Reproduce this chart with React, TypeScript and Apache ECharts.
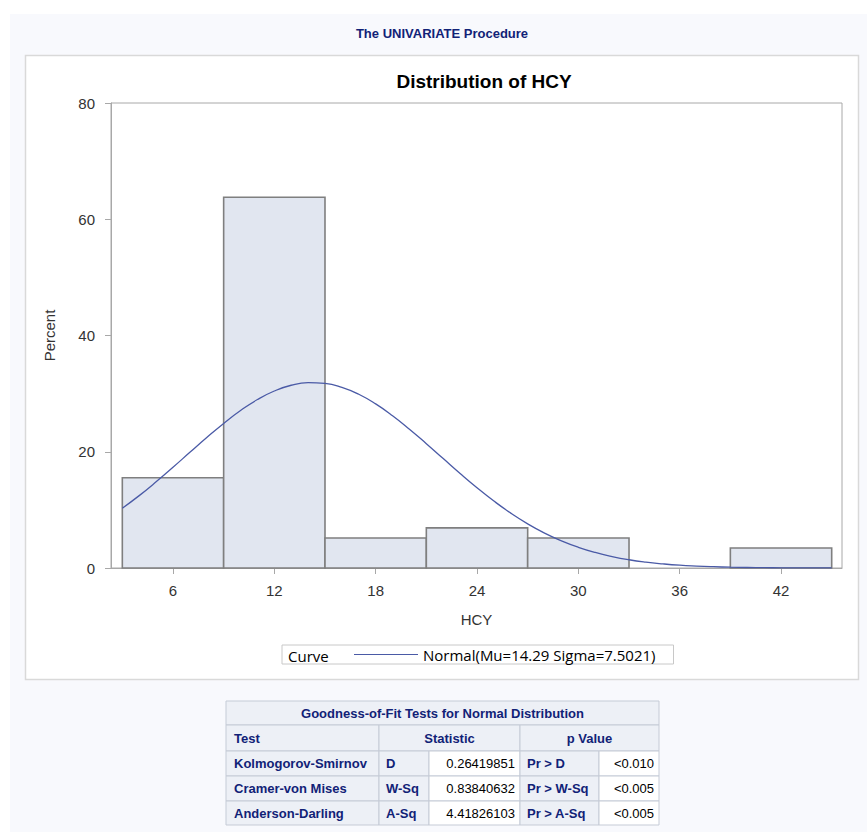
import React, { useEffect, useRef } from "react";
import * as echarts from "echarts";

// Histogram bins (HCY), percent of observations
const binStart = [3, 9, 15, 21, 27, 33, 39];
const binEnd = [9, 15, 21, 27, 33, 39, 45];
const percent = [15.52, 63.79, 5.17, 6.9, 5.17, 0, 3.45];

// Fitted normal curve (HCY, percent)
const curveX = [3, 4, 5, 6, 7, 8, 9, 10, 11, 12, 13, 14, 15, 16, 17, 18, 19, 20, 21, 22, 23, 24, 25, 26, 27, 28, 29, 30, 31, 32, 33, 34, 35, 36, 37, 38, 39, 40, 41, 42, 43, 44, 45];
const curveY = [10.28, 12.45, 14.82, 17.33, 19.9, 22.45, 24.88, 27.1, 28.98, 30.45, 31.44, 31.88, 31.76, 31.09, 29.89, 28.23, 26.2, 23.88, 21.39, 18.82, 16.26, 13.81, 11.52, 9.44, 7.6, 6.01, 4.67, 3.56, 2.67, 1.97, 1.42, 1.01, 0.71, 0.48, 0.33, 0.22, 0.14, 0.09, 0.06, 0.03, 0.02, 0.01, 0.01];

const xTicks = [6, 12, 18, 24, 30, 36, 42];
const yTicks = [0, 20, 40, 60, 80];

const curveName = "Normal(Mu=14.29 Sigma=7.5021)";

// Goodness-of-fit table
const tableTitle = "Goodness-of-Fit Tests for Normal Distribution";
const tableHeaders = ["Test", "Statistic", "p Value"];
const testNames = ["Kolmogorov-Smirnov", "Cramer-von Mises", "Anderson-Darling"];
const statSymbols = ["D", "W-Sq", "A-Sq"];
const statValues = ["0.26419851", "0.83840632", "4.41826103"];
const pLabels = ["Pr > D", "Pr > W-Sq", "Pr > A-Sq"];
const pValues = ["<0.010", "<0.005", "<0.005"];

const FONT = "'Liberation Sans', Arial, sans-serif";
const LEGEND_FONT = "'Open Sans', 'Noto Sans', sans-serif";
const NAVY = "#112277";
const HEAD_BG = "#edf0f6";
const CELL_LINE = "#c5cbd6";

export default function App() {
  const ref = useRef<HTMLDivElement>(null);

  useEffect(() => {
    if (!ref.current) return;
    const chart = echarts.init(ref.current, null, { renderer: "svg" });

    const colX = [226, 379, 429, 520, 599, 659];
    const rowY = [701, 725, 751, 776, 801, 825];

    const tableEls: any[] = [];
    const cell = (x0: number, x1: number, y0: number, y1: number, fill: string) => {
      tableEls.push({
        type: "rect",
        shape: { x: x0, y: y0, width: x1 - x0, height: y1 - y0 },
        style: { fill, stroke: CELL_LINE, lineWidth: 1 },
        z: 5,
      });
    };
    const txt = (
      text: string,
      x: number,
      y: number,
      align: string,
      bold: boolean,
      color: string
    ) => {
      tableEls.push({
        type: "text",
        x,
        y,
        style: {
          text,
          fill: color,
          font: `${bold ? "bold " : ""}13px ${FONT}`,
          textAlign: align,
          textVerticalAlign: "middle",
        },
        z: 6,
      });
    };
    // title row
    cell(colX[0], colX[5], rowY[0], rowY[1], HEAD_BG);
    txt(tableTitle, (colX[0] + colX[5]) / 2, (rowY[0] + rowY[1]) / 2, "center", true, NAVY);
    // header row
    cell(colX[0], colX[1], rowY[1], rowY[2], HEAD_BG);
    cell(colX[1], colX[3], rowY[1], rowY[2], HEAD_BG);
    cell(colX[3], colX[5], rowY[1], rowY[2], HEAD_BG);
    txt(tableHeaders[0], colX[0] + 8, (rowY[1] + rowY[2]) / 2, "left", true, NAVY);
    txt(tableHeaders[1], (colX[1] + colX[3]) / 2, (rowY[1] + rowY[2]) / 2, "center", true, NAVY);
    txt(tableHeaders[2], (colX[3] + colX[5]) / 2, (rowY[1] + rowY[2]) / 2, "center", true, NAVY);
    for (let i = 0; i < testNames.length; i++) {
      const y0 = rowY[2 + i];
      const y1 = rowY[3 + i];
      const ym = (y0 + y1) / 2;
      cell(colX[0], colX[1], y0, y1, HEAD_BG);
      cell(colX[1], colX[2], y0, y1, HEAD_BG);
      cell(colX[2], colX[3], y0, y1, "#ffffff");
      cell(colX[3], colX[4], y0, y1, HEAD_BG);
      cell(colX[4], colX[5], y0, y1, "#ffffff");
      txt(testNames[i], colX[0] + 8, ym, "left", true, NAVY);
      txt(statSymbols[i], colX[1] + 7, ym, "left", true, NAVY);
      txt(statValues[i], colX[3] - 5, ym, "right", false, "#000");
      txt(pLabels[i], colX[3] + 7, ym, "left", true, NAVY);
      txt(pValues[i], colX[5] - 5, ym, "right", false, "#000");
    }

    const barData = binStart.map((s, i) => [s, binEnd[i], percent[i]]);
    const curveData = curveX.map((x, i) => [x, curveY[i]]);

    chart.setOption({
      animation: false,
      graphic: [
        {
          type: "rect",
          shape: { x: 10, y: 14, width: 857, height: 818 },
          style: { fill: "#f8f9fd" },
          z: -20,
        },
        {
          type: "rect",
          shape: { x: 25.5, y: 55.5, width: 833, height: 624 },
          style: { fill: "#ffffff", stroke: "#d9d9d9", lineWidth: 1.5 },
          z: -19,
        },
        {
          type: "text",
          x: 442,
          y: 33,
          style: {
            text: "The UNIVARIATE Procedure",
            fill: NAVY,
            font: `bold 13px ${FONT}`,
            textAlign: "center",
            textVerticalAlign: "middle",
          },
        },
        {
          type: "text",
          x: 288,
          y: 656,
          style: {
            text: "Curve",
            fill: "#000",
            font: `15px ${LEGEND_FONT}`,
            textAlign: "left",
            textVerticalAlign: "middle",
          },
          z: 10,
        },
        ...tableEls,
      ],
      title: {
        text: "Distribution of HCY",
        left: 479,
        top: 67,
        textAlign: "center",
        textStyle: { fontFamily: FONT, fontSize: 19, fontWeight: "bold", color: "#000" },
      },
      legend: {
        data: [curveName],
        left: 282,
        top: 645,
        padding: [2, 18, 2, 72],
        borderColor: "#c8c8c8",
        borderWidth: 1,
        icon: "rect",
        itemWidth: 64,
        itemHeight: 1,
        selectedMode: false,
        textStyle: { fontFamily: LEGEND_FONT, fontSize: 15, color: "#000" },
      },
      grid: {
        left: 111,
        top: 103,
        width: 731,
        height: 465,
        show: true,
        backgroundColor: "#ffffff",
        borderColor: "#a8a8a8",
        borderWidth: 1,
      },
      xAxis: {
        type: "value",
        min: 2.33,
        max: 45.61,
        name: "HCY",
        nameLocation: "middle",
        nameGap: 44,
        nameTextStyle: { fontFamily: FONT, fontSize: 15, color: "#333" },
        splitLine: { show: false },
        axisLine: { show: true, lineStyle: { color: "#a8a8a8" } },
        axisTick: { show: true, length: 6, lineStyle: { color: "#a8a8a8" }, customValues: xTicks },
        axisLabel: {
          customValues: xTicks,
          margin: 15,
          fontFamily: FONT,
          fontSize: 15,
          color: "#333",
        },
      },
      yAxis: {
        type: "value",
        min: yTicks[0],
        max: yTicks[yTicks.length - 1],
        interval: 20,
        name: "Percent",
        nameLocation: "middle",
        nameGap: 54,
        nameRotate: 90,
        nameTextStyle: { fontFamily: FONT, fontSize: 15, color: "#333" },
        splitLine: { show: false },
        axisLine: { show: true, lineStyle: { color: "#a8a8a8" } },
        axisTick: { show: true, length: 6, lineStyle: { color: "#a8a8a8" } },
        axisLabel: { margin: 16, fontFamily: FONT, fontSize: 15, color: "#333" },
      },
      series: [
        {
          type: "custom",
          name: "Histogram",
          data: barData,
          encode: { x: [0, 1], y: 2 },
          renderItem: (params: any, api: any) => {
            const v = api.value(2);
            if (!v) return null;
            const p0 = api.coord([api.value(0), v]);
            const p1 = api.coord([api.value(1), 0]);
            return {
              type: "rect",
              shape: { x: p0[0], y: p0[1], width: p1[0] - p0[0], height: p1[1] - p0[1] },
              style: { fill: "#e1e6f0", stroke: "#7f7f7f", lineWidth: 1.6 },
            };
          },
          z: 2,
        },
        {
          type: "line",
          name: curveName,
          data: curveData,
          smooth: true,
          showSymbol: false,
          symbol: "none",
          color: "#4a5aa6",
          lineStyle: { color: "#4a5aa6", width: 1.3 },
          z: 3,
        },
      ],
    });

    return () => chart.dispose();
  }, []);

  return (
    <div
      ref={ref}
      style={{ position: "absolute", left: 0, top: 0, width: 867, height: 832 }}
    />
  );
}
